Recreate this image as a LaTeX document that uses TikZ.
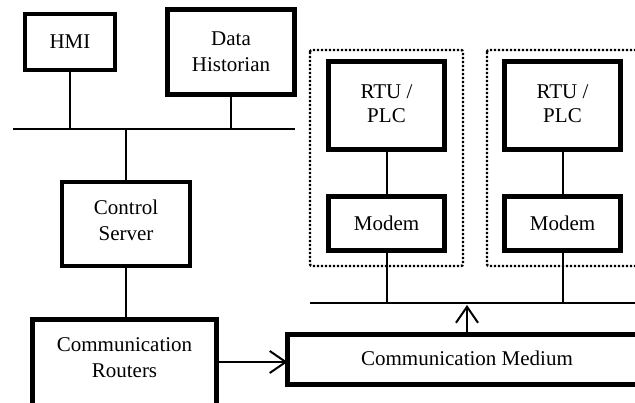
\documentclass[tikz,border=0pt]{standalone}
\usepackage{fontspec}
\setmainfont{Liberation Serif}
\usetikzlibrary{arrows.meta}
\begin{document}
\begin{tikzpicture}[x=1pt,y=-1pt,
  box/.style={draw,line width=4.6pt,inner sep=0pt,outer sep=0pt,align=center,
    font=\fontsize{21}{26}\selectfont},
  txt/.style={align=center,inner sep=0pt,font=\fontsize{21}{26}\selectfont},
  conn/.style={line width=2pt},
  bus/.style={line width=2pt},
  grp/.style={line width=2.4pt,dash pattern=on 2.2pt off 1.8pt,rounded corners=2pt},
  arr/.style={line width=2pt,-{Straight Barb[length=16pt,width=22pt,line width=2pt]}}]
\useasboundingbox (0,0) rectangle (635,403);
\clip (0,0) rectangle (635,403);
% top group
\node[box,minimum width=90,minimum height=56] (hmi) at (70,42) {HMI};
\node[box,line width=5pt,minimum width=127,minimum height=85] (hist) at (231,52) {Data\\Historian};
\coordinate (busAL) at (13,129);
\coordinate (busAR) at (295,129);
\draw[bus] (busAL) -- (busAR);
\node[box,minimum width=128,minimum height=84] (srv) at (126,224) {};
\node[txt] (srvt) at (126,220) {Control\\Server};
\node[box,line width=5pt,minimum width=184,minimum height=100] (rtr) at (124.5,369.5) {};
\node[txt] (rtrt) at (124.5,358) {Communication\\Routers};
\node[box,line width=5pt,minimum width=360,minimum height=50,anchor=west] (med) at (287.5,359.5) {};
\node[txt] (medt) at (467,358) {Communication Medium};
% field groups
\draw[grp] (310,50) rectangle (463,266);
\draw[grp] (487,50) rectangle (650,266);
\node[box,minimum width=116,minimum height=88] (rtu1) at (386.5,105.5) {};
\node[txt] (rtu1t) at (386.5,104) {RTU /\\[-2pt]PLC};
\node[box,minimum width=116,minimum height=54] (mod1) at (386.5,223.5) {Modem};
\node[box,minimum width=116,minimum height=88] (rtu2) at (562.5,105.5) {};
\node[txt] (rtu2t) at (562.5,104) {RTU /\\[-2pt]PLC};
\node[box,minimum width=116,minimum height=54] (mod2) at (562.5,223.5) {Modem};
\coordinate (busBL) at (310,303);
\coordinate (busBR) at (640,303);
\draw[bus] (busBL) -- (busBR);
% connectors
\draw[conn] (hmi.south) -- (hmi.south |- busAL);
\draw[conn] (hist.south) -- (hist.south |- busAL);
\draw[conn] (srv.north) -- (srv.north |- busAL);
\draw[conn] (srv.south) -- (srv.south |- rtr.north);
\draw[conn] (rtu1.south) -- (mod1.north);
\draw[conn] (rtu2.south) -- (mod2.north);
\draw[conn] (mod1.south) -- (mod1.south |- busBL);
\draw[conn] (mod2.south) -- (mod2.south |- busBL);
\draw[arr] (rtr.east |- 0,362) -- (med.west |- 0,362);
\coordinate (arrtop) at (467,305);
\draw[arr] (med.north -| arrtop) -- (arrtop);
\end{tikzpicture}
\end{document}
